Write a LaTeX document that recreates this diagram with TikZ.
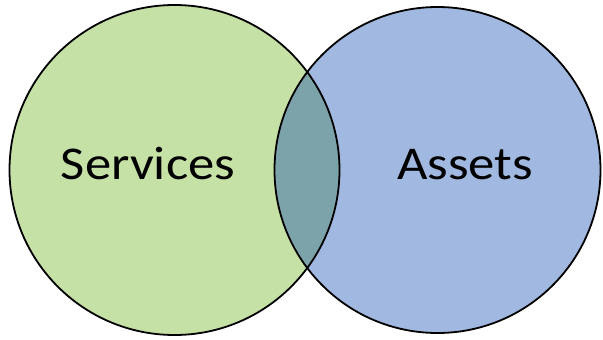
\documentclass[tikz,border=0pt]{standalone}
\usepackage{fontspec}
\setsansfont{Carlito}
\usepackage{tikz}
\usetikzlibrary{positioning}
\definecolor{servgreen}{RGB}{198,225,166}
\definecolor{assetblue}{RGB}{161,184,224}
\definecolor{bothteal}{RGB}{124,163,170}
\newcommand{\setword}[1]{\scalebox{1.12}[1]{#1}}
\tikzset{
    every node/.style={font=\sffamily},
    set text/.style={anchor=base,inner sep=0pt,font=\sffamily\fontsize{47}{56}\selectfont},
    set ring/.style={draw=black,line width=1.8pt}
}

\begin{document}
\begin{tikzpicture}[x=1pt,y=-1pt]
    \useasboundingbox (0,0) rectangle (603,340);
        \coordinate (s) at (174.5,170);
        \coordinate (a) at (437.5,170);
        \fill[servgreen] (s) circle (165);
        \fill[assetblue] (a) circle (163);
        \begin{scope}
            \clip (s) circle (165);
            \fill[bothteal] (a) circle (163);
        \end{scope}
        \draw[set ring] (s) circle (165);
        \draw[set ring] (a) circle (163);
        \node[set text] (services) at (148,179.5) {\setword{Services}};
        \node[set text] (assets) at (465,179.5) {\setword{Assets}};
      \end{tikzpicture}
\end{document}
